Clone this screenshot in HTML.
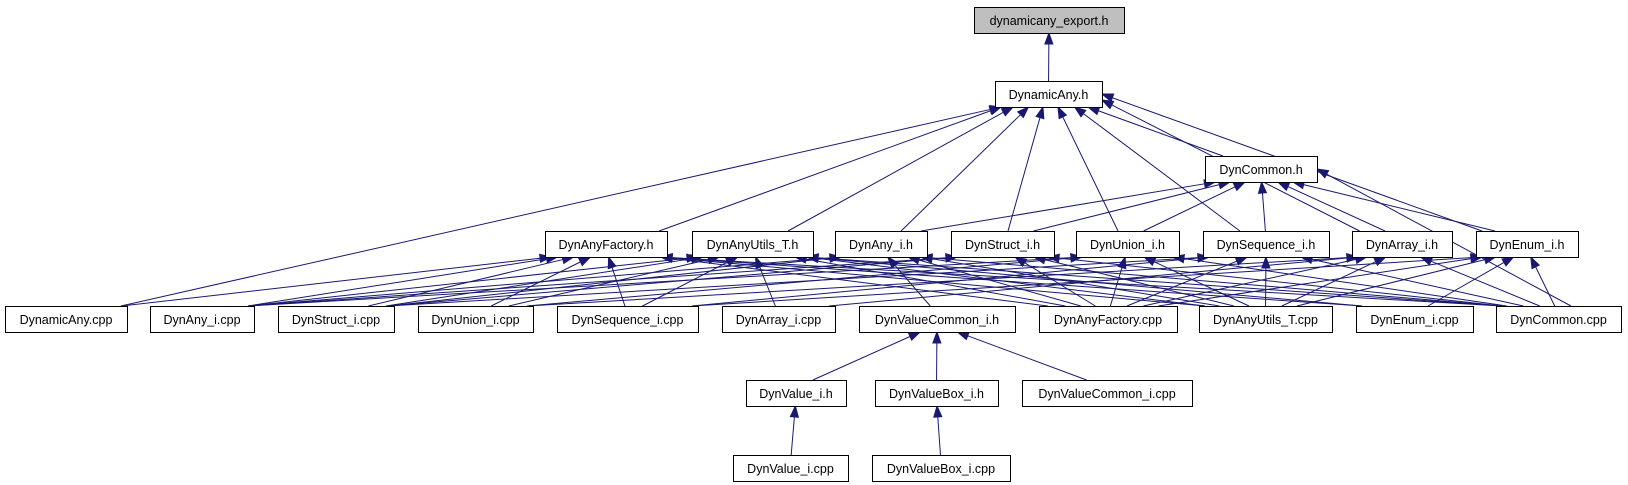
<!DOCTYPE html>
<html><head><meta charset="utf-8">
<style>
html,body{margin:0;padding:0;background:#fff;width:1628px;height:485px;overflow:hidden}
svg{display:block}
text{font-family:"Liberation Sans",sans-serif;font-size:12.5px;fill:#000}
</style></head>
<body>
<svg id="g" width="1628" height="485" xmlns="http://www.w3.org/2000/svg"></svg>
<script>
const N={
exp:[974,7,1124,33,"dynamicany_export.h"],
dah:[995,81,1102,107,"DynamicAny.h"],
dch:[1205,156,1317,182,"DynCommon.h"],
fh:[545,231,667,257,"DynAnyFactory.h"],
uh:[692,231,813,257,"DynAnyUtils_T.h"],
ah:[835,231,927,257,"DynAny_i.h"],
sh:[951,231,1054,257,"DynStruct_i.h"],
unh:[1076,231,1179,257,"DynUnion_i.h"],
sqh:[1203,231,1329,257,"DynSequence_i.h"],
arh:[1352,231,1452,257,"DynArray_i.h"],
eh:[1476,231,1578,257,"DynEnum_i.h"],
dac:[5,306,127,332,"DynamicAny.cpp"],
ac:[150,306,254,332,"DynAny_i.cpp"],
sc:[278,306,394,332,"DynStruct_i.cpp"],
unc:[418,306,533,332,"DynUnion_i.cpp"],
sqc:[557,306,698,332,"DynSequence_i.cpp"],
arc:[722,306,835,332,"DynArray_i.cpp"],
vch:[859,306,1015,332,"DynValueCommon_i.h"],
fc:[1039,306,1177,332,"DynAnyFactory.cpp"],
uc:[1199,306,1332,332,"DynAnyUtils_T.cpp"],
ec:[1356,306,1473,332,"DynEnum_i.cpp"],
dcc:[1496,306,1621,332,"DynCommon.cpp"],
vh:[746,380,846,406,"DynValue_i.h"],
vbh:[875,380,998,406,"DynValueBox_i.h"],
vcc:[1022,380,1192,406,"DynValueCommon_i.cpp"],
vc:[733,455,848,481,"DynValue_i.cpp"],
vbc:[872,455,1010,481,"DynValueBox_i.cpp"]
};
const E=[["dah","exp"]];
["dac","fh","uh","ah","sh","unh","sqh","dch","arh","eh"].forEach(c=>E.push([c,"dah"]));
["ah","sh","unh","sqh","arh","eh","dcc"].forEach(c=>E.push([c,"dch"]));
["dac","ac","sc","unc","sqc","fc","uc","ec","dcc"].forEach(c=>E.push([c,"fh"]));
["ac","sc","unc","sqc","arc","fc","uc","ec","dcc"].forEach(c=>E.push([c,"uh"]));
["ac","sc","vch","fc","uc","dcc"].forEach(c=>E.push([c,"ah"]));
["sc","fc","uc","dcc","ac"].forEach(c=>E.push([c,"sh"]));
["unc","fc","uc","dcc","ac"].forEach(c=>E.push([c,"unh"]));
["sqc","fc","uc","dcc","sc"].forEach(c=>E.push([c,"sqh"]));
["arc","fc","uc","dcc","unc"].forEach(c=>E.push([c,"arh"]));
["ec","fc","uc","dcc","sqc"].forEach(c=>E.push([c,"eh"]));
["vh","vbh","vcc"].forEach(c=>E.push([c,"vch"]));
E.push(["vc","vh"],["vbc","vbh"]);
const C="#191970";let s="";
const cl=(v,a,b)=>Math.max(a,Math.min(b,v));
E.forEach(([c,p])=>{
 const A=N[c],B=N[p];
 const ac=(A[0]+A[2])/2,bc=(B[0]+B[2])/2;
 let x1=cl(ac+(bc-ac)*0.12,A[0]+6,A[2]-6),y1=A[1];
 let x2,y2;
 if(c=="dcc"&&p=="dch"){x2=B[2];y2=(B[1]+B[3])/2;x1=A[0]+(A[2]-A[0])*0.6;}
 else if(p=="dah"&&(c=="arh"||c=="eh")){x2=B[2];y2=c=="arh"?100:94;}
 else if(c=="dch"&&p=="dah"){x1=A[0]+18;x2=B[2]-14;y2=B[3];}
 else{x2=cl(bc+(ac-bc)*0.12,B[0]+6,B[2]-6);y2=B[3];}
 const dx=x2-x1,dy=y2-y1,L=Math.hypot(dx,dy),ux=dx/L,uy=dy/L;
 const bx=x2-ux*11,by=y2-uy*11;
 s+=`<line x1="${x1}" y1="${y1}" x2="${bx}" y2="${by}" stroke="${C}" stroke-width="1"/>`;
 s+=`<polygon points="${x2},${y2} ${bx-uy*4},${by+ux*4} ${bx+uy*4},${by-ux*4}" fill="${C}" stroke="${C}"/>`;
});
for(const k in N){const n=N[k];
 s+=`<rect x="${n[0]+.5}" y="${n[1]+.5}" width="${n[2]-n[0]}" height="${n[3]-n[1]}" fill="${k=='exp'?'#bfbfbf':'#fff'}" stroke="#000"/>`;
 s+=`<text x="${(n[0]+n[2])/2}" y="${n[1]+18}" text-anchor="middle">${n[4]}</text>`;}
document.getElementById("g").innerHTML=s;
</script>
</body></html>
